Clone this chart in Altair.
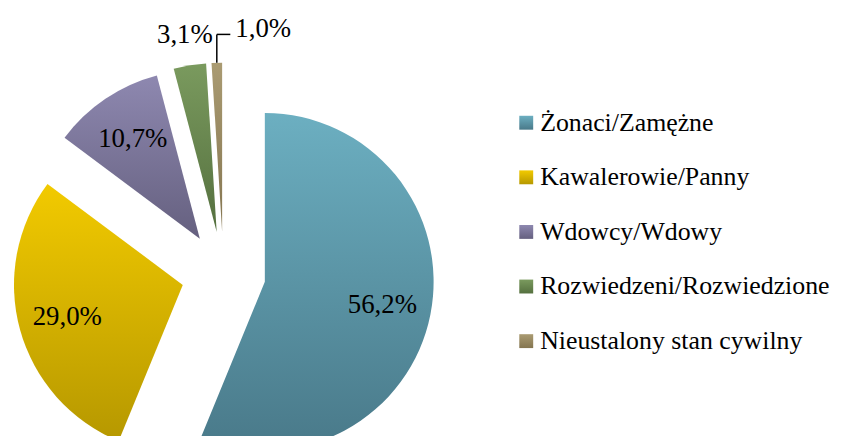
import altair as alt
import pandas as pd

categories = ["Żonaci/Zamężne", "Kawalerowie/Panny", "Wdowcy/Wdowy",
              "Rozwiedzeni/Rozwiedzione", "Nieustalony stan cywilny"]
values = [56.2, 29.0, 10.7, 3.1, 1.0]
order = [0, 1, 2, 3, 4]

# gradient colours (top, bottom) for each slice
top_colors = ["#6cafc1", "#f2ca00", "#8e88b0", "#7a9a5e", "#aa9b72"]
bottom_colors = ["#497989", "#b69800", "#65607f", "#55703f", "#847550"]

FONT = "Liberation Serif"

df = pd.DataFrame({"cat": categories, "pct": values, "idx": order})


def grad(c1, c2):
    return {"expr": "{gradient: 'linear', x1: 0, y1: 0, x2: 0, y2: 1, "
                    "stops: [{offset: 0, color: '%s'}, {offset: 1, color: '%s'}]}" % (c1, c2)}


fill_range = [grad(a, b) for a, b in zip(top_colors, bottom_colors)]

W, H = 832, 428
R = 170.0
CX, CY = 217.0, 266.0
xscale = alt.Scale(domain=[-CX / R, (W - CX) / R], nice=False, zero=False)
yscale = alt.Scale(domain=[(CY - H) / R, CY / R], nice=False, zero=False)

base = (
    alt.Chart(df)
    .transform_window(cum="sum(pct)", sort=[alt.SortField("idx")], frame=[None, 0])
    .transform_calculate(
        start="datum.cum - datum.pct",
        end="datum.cum",
        mid="(datum.cum - datum.pct / 2) / 100 * 2 * PI",
    )
    .transform_calculate(
        ex="0.25 * sin(datum.mid)",
        ey="0.25 * cos(datum.mid)",
        lr="datum.pct >= 5 ? 0.71 : 1.18",
        label="replace(format(datum.pct, '.1f'), '.', ',') + '%'",
    )
    .transform_calculate(
        lx="datum.ex + datum.lr * sin(datum.mid)",
        ly="datum.ey + datum.lr * cos(datum.mid)",
        ax="datum.ex + sin(datum.mid)",
        ay="datum.ey + cos(datum.mid)",
    )
    .transform_calculate(
        ay2="datum.ay + 0.168",
        ax2="datum.ax + 0.08",
        tx="datum.ax + 0.11",
    )
)

arcs = base.mark_arc(radius=R).encode(
    x=alt.X("ex:Q", scale=xscale, axis=None),
    y=alt.Y("ey:Q", scale=yscale, axis=None),
    theta=alt.Theta("start:Q", scale=alt.Scale(domain=[0, 100]), stack=None),
    theta2=alt.Theta2("end:Q"),
    fill=alt.Fill(
        "cat:N",
        scale=alt.Scale(domain=categories, range=fill_range),
        sort=categories,
        legend=alt.Legend(
            title=None, orient="none", legendX=509, legendY=101,
            labelFont=FONT, labelFontSize=26, labelColor="black",
            symbolType="square", symbolSize=196, symbolStrokeWidth=0,
            rowPadding=29, labelOffset=1, padding=0, labelLimit=500,
        ),
    ),
)

labels = base.transform_filter("datum.pct >= 2").mark_text(
    font=FONT, fontSize=27, color="black", align="center", baseline="middle"
).encode(
    x=alt.X("lx:Q", scale=xscale, axis=None),
    y=alt.Y("ly:Q", scale=yscale, axis=None),
    text="label:N",
)

small = base.transform_filter("datum.pct < 2")

lead_v = small.mark_rule(color="black", strokeWidth=1.5).encode(
    x=alt.X("ax:Q", scale=xscale, axis=None),
    y=alt.Y("ay:Q", scale=yscale, axis=None),
    y2="ay2:Q",
)
lead_h = small.mark_rule(color="black", strokeWidth=1.5).encode(
    x=alt.X("ax:Q", scale=xscale, axis=None),
    x2="ax2:Q",
    y=alt.Y("ay2:Q", scale=yscale, axis=None),
)
lead_text = small.mark_text(
    font=FONT, fontSize=27, color="black", align="left",
    baseline="alphabetic", dy=3,
).encode(
    x=alt.X("tx:Q", scale=xscale, axis=None),
    y=alt.Y("ay2:Q", scale=yscale, axis=None),
    text="label:N",
)

chart = (
    alt.layer(arcs, labels, lead_v, lead_h, lead_text)
    .properties(width=W, height=H, padding=0, autosize=alt.AutoSizeParams(type="none"))
    .configure(font=FONT)
    .configure_text(font=FONT)
    .configure_legend(labelFont=FONT)
    .configure_view(stroke=None)
)

chart.save("out.html", embed_options={"renderer": "svg", "actions": False})
